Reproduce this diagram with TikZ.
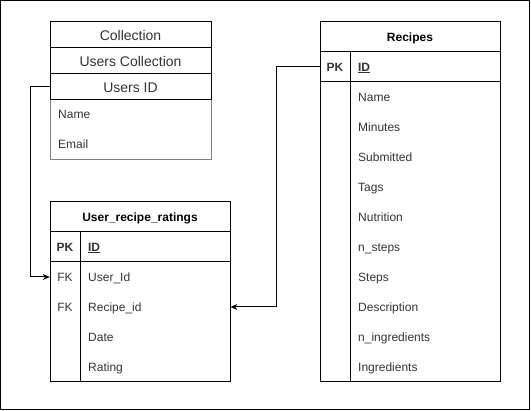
\documentclass[tikz,border=0pt]{standalone}
\usepackage{fontspec}
\setmainfont{Liberation Sans}
\usepackage{tikz}
\usetikzlibrary{positioning,arrows.meta,calc}
\definecolor{cTxt}{HTML}{333333}
\definecolor{cGray}{HTML}{808080}
\newcommand{\fsz}[1]{\fontsize{#1}{#1}\selectfont}
\tikzset{
  >={Stealth[length=7pt,width=6pt]},
  tbox/.style={draw,line width=1pt,inner sep=0pt,outer sep=0pt,text=cTxt,font=\fsz{12},
               text height=11pt,text depth=2.4pt},
  thead/.style={tbox,minimum width=180pt,minimum height=30pt,font=\fsz{12}\bfseries,text=black},
  cbox/.style={tbox,minimum width=161pt,minimum height=26pt,font=\fsz{14},
               text height=14pt,text depth=2pt},
  tkey/.style={tbox,minimum width=30pt},
  tfld/.style={tbox,text width=134pt,inner xsep=8pt,align=left},
  flab/.style={anchor=west,inner sep=0pt,inner xsep=8pt,text width=134pt,
               minimum height=30pt,text=cTxt,font=\fsz{12},text height=11pt,text depth=2.4pt},
  klab/.style={minimum width=30pt,minimum height=30pt,inner sep=0pt,text=cTxt,font=\fsz{12},
               text height=11pt,text depth=2.4pt},
  rel/.style={->,line width=1pt},
}

\begin{document}
\begin{tikzpicture}[x=1pt,y=-1pt]
  \useasboundingbox (0,0) rectangle (531,411);
  \draw[line width=1pt] (0.5,0.5) rectangle (529.5,409.5);

  % collection
  \node[tbox,draw=cGray,minimum width=161pt,minimum height=60pt,anchor=north west] (cBody) at (50,100) {};
  \node[cbox,above=0pt of cBody] (cId) {Users ID};
  \node[cbox,above=0pt of cId] (cUsers) {Users Collection};
  \node[cbox,above=0pt of cUsers] (cTitle) {Collection};
  \foreach \f [count=\i] in {Name,Email}
    \node[flab,text width=145pt] (cf\i) at ($(cBody.north west)+(0,30*\i-16)$) {\f};

  % ratings
  \node[thead,anchor=north west] (uTitle) at (50,202) {User\_recipe\_ratings};
  \node[tkey,minimum height=30pt,font=\fsz{12}\bfseries,below right=0pt and 0pt of uTitle.south west] (uPKk) {PK};
  \node[tfld,minimum height=30pt,font=\fsz{12}\bfseries,right=0pt of uPKk] (uPKf) {\underline{ID}};
  \node[tkey,minimum height=120pt,below=0pt of uPKk] (uKeys) {};
  \node[tfld,minimum height=120pt,below=0pt of uPKf] (uFlds) {};
  \foreach \f [count=\i] in {User\_Id,Recipe\_id,Date,Rating}
    \node[flab] (uf\i) at ($(uFlds.north west)+(0,30*\i-15)$) {\f};
  \node[klab] (uk1) at ($(uKeys.north)+(0,15)$) {FK};
  \node[klab] (uk2) at ($(uKeys.north)+(0,45)$) {FK};

  % recipes
  \node[thead,anchor=north west] (rTitle) at (320,22) {Recipes};
  \node[tkey,minimum height=30pt,font=\fsz{12}\bfseries,below right=0pt and 0pt of rTitle.south west] (rPKk) {PK};
  \node[tfld,minimum height=30pt,font=\fsz{12}\bfseries,right=0pt of rPKk] (rPKf) {\underline{ID}};
  \node[tkey,minimum height=300pt,below=0pt of rPKk] (rKeys) {};
  \node[tfld,minimum height=300pt,below=0pt of rPKf] (rFlds) {};
  \foreach \f [count=\i] in {Name,Minutes,Submitted,Tags,Nutrition,n\_steps,Steps,Description,n\_ingredients,Ingredients}
    \node[flab] (rf\i) at ($(rFlds.north west)+(0,30*\i-15)$) {\f};

  % links
  \draw[rel] (cId.west) -- ++(-20,0) |- (uk1.west);
  \draw[rel] (rPKk.west) -- ++(-44,0) |- (uf2.east);
\end{tikzpicture}
\end{document}
